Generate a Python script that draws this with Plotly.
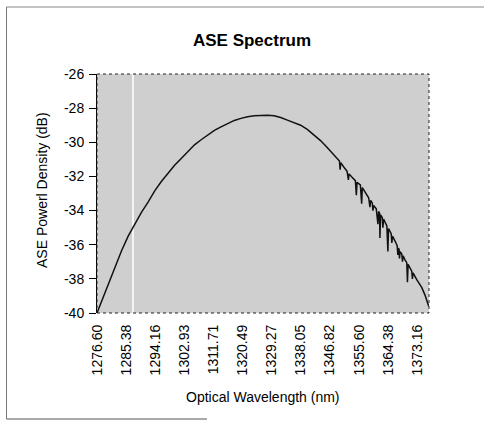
import plotly.graph_objects as go

# Data
wavelength_nm = [
    1276.6, 1278.0, 1280.0, 1282.0, 1284.0, 1286.0, 1288.0, 1290.0, 1292.0, 1294.0,
    1296.0, 1298.0, 1300.0, 1302.0, 1304.0, 1306.0, 1308.0, 1310.0, 1312.0, 1314.0,
    1316.0, 1318.0, 1320.0, 1322.0, 1324.0, 1326.0, 1328.0, 1330.0, 1332.0, 1334.0,
    1336.0, 1338.0, 1340.0, 1342.0, 1344.0, 1346.0, 1348.0, 1349.7, 1349.9, 1350.1,
    1351.0, 1352.0, 1352.4, 1352.6, 1353.5, 1354.5, 1354.8, 1355.0, 1356.0, 1356.4,
    1356.6, 1357.5, 1358.5, 1358.9, 1359.1, 1359.6, 1359.8, 1360.0, 1360.8, 1361.3,
    1361.5, 1361.8, 1361.9, 1362.1, 1362.6, 1362.8, 1363.0, 1364.0, 1364.3, 1364.5,
    1365.3, 1365.5, 1365.7, 1366.5, 1367.1, 1367.3, 1367.5, 1367.7, 1367.8, 1368.0,
    1368.5, 1368.7, 1368.9, 1369.5, 1370.0, 1370.2, 1370.4, 1371.5, 1371.7, 1371.9,
    1373.0, 1374.5, 1375.5, 1376.6,
]
ase_db = [
    -40.0, -39.3, -38.25, -37.3, -36.35, -35.5, -34.8, -34.1, -33.5, -32.85,
    -32.3, -31.8, -31.35, -30.95, -30.55, -30.15, -29.85, -29.55, -29.3, -29.1,
    -28.9, -28.72, -28.6, -28.5, -28.45, -28.42, -28.42, -28.45, -28.55, -28.7,
    -28.85, -29.0, -29.25, -29.55, -29.9, -30.3, -30.75, -31.1, -31.6, -31.2,
    -31.45, -31.7, -32.2, -31.85, -32.05, -32.25, -33.1, -32.35, -32.5, -33.6,
    -32.65, -32.9, -33.25, -33.8, -33.4, -33.55, -34.0, -33.7, -33.9, -34.8,
    -34.05, -34.15, -35.6, -34.25, -34.4, -35.0, -34.5, -34.9, -36.4, -35.05,
    -35.35, -35.9, -35.5, -35.8, -36.05, -36.6, -36.2, -36.3, -36.8, -36.4,
    -36.55, -37.0, -36.65, -36.9, -37.05, -38.2, -37.15, -37.55, -38.0, -37.65,
    -38.05, -38.5, -38.95, -39.6,
]
x_tick_values = [1276.60, 1285.38, 1294.16, 1302.93, 1311.71, 1320.49,
                 1329.27, 1338.05, 1346.82, 1355.60, 1364.38, 1373.16]
x_tick_labels = [f"{v:.2f}" for v in x_tick_values]
y_tick_values = [-26, -28, -30, -32, -34, -36, -38, -40]
y_tick_labels = [str(v) for v in y_tick_values]

FONT = "Arial, Liberation Sans, sans-serif"

fig = go.Figure()
fig.add_trace(go.Scatter(
    x=wavelength_nm, y=ase_db, mode="lines",
    line=dict(color="#111111", width=1.5),
    showlegend=False, hoverinfo="skip",
))

W, H = 484, 421
L, T = 97, 74
R = W - 429
B = H - 313
pw, ph = W - L - R, H - T - B


def px(xp):
    return (xp - L) / pw


def py(yp):
    return (H - B - yp) / ph


fig.update_layout(
    width=W, height=H,
    margin=dict(l=L, r=R, t=T, b=B, pad=0),
    paper_bgcolor="white",
    plot_bgcolor="#cfcfcf",
    font=dict(family=FONT, color="black", size=14),
    title=dict(text="<b>ASE Spectrum</b>", font=dict(size=17, family=FONT),
               x=252 / W, xanchor="center", y=1 - 40 / H, yanchor="middle"),
    xaxis=dict(
        range=[1276.6, 1376.7], tickmode="array", tickvals=x_tick_values,
        ticktext=x_tick_labels, tickangle=-90, showgrid=False, zeroline=False,
        ticks="", showline=False, tickfont=dict(size=14), ticklabelstandoff=8,
    ),
    yaxis=dict(
        range=[-40, -26], tickmode="array", tickvals=y_tick_values,
        ticktext=y_tick_labels,
        showgrid=False, zeroline=False, ticks="outside", ticklen=7,
        tickcolor="black", showline=True, linecolor="black", linewidth=1,
        tickfont=dict(size=14), ticklabelstandoff=2,
    ),
    shapes=[
        # scan artifact stripe
        dict(type="line", xref="paper", yref="paper", x0=px(133), x1=px(133),
             y0=0, y1=1, line=dict(color="#f4f4f4", width=2), layer="below"),
        # dotted plot border
        dict(type="rect", xref="paper", yref="paper", x0=0, x1=1, y0=0, y1=1,
             line=dict(color="#222222", width=1, dash="dot")),
        # outer frame pieces
        dict(type="line", xref="paper", yref="paper", x0=px(6.5), x1=px(6.5),
             y0=py(419), y1=py(7), line=dict(color="#777777", width=1)),
        dict(type="line", xref="paper", yref="paper", x0=px(6.5), x1=px(484),
             y0=py(7), y1=py(7), line=dict(color="#888888", width=1)),
        dict(type="line", xref="paper", yref="paper", x0=px(6.5), x1=px(207),
             y0=py(419), y1=py(419), line=dict(color="#555555", width=1)),
    ],
    annotations=[
        dict(text="ASE Powerl Density (dB)", xref="paper", yref="paper",
             x=px(42), y=py(190), textangle=-90, showarrow=False,
             font=dict(size=14, family=FONT), xanchor="center", yanchor="middle"),
        dict(text="Optical Wavelength (nm)", xref="paper", yref="paper",
             x=px(263), y=py(397), showarrow=False,
             font=dict(size=14, family=FONT), xanchor="center", yanchor="middle"),
    ],
)

fig.write_html("out.html", config={"displayModeBar": False},
               post_script="document.body.style.margin='0';")
